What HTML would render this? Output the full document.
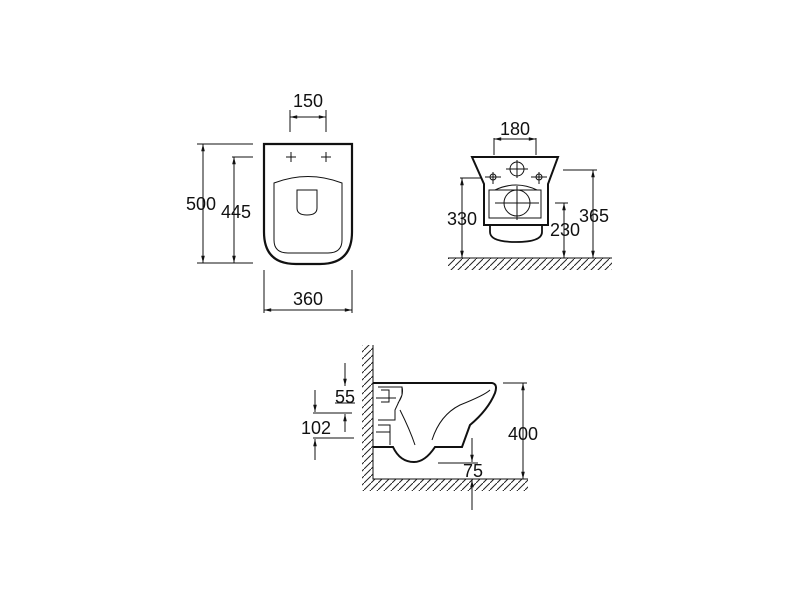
<!DOCTYPE html>
<html><head><meta charset="utf-8"><style>
html,body{margin:0;padding:0;background:#fff}
svg{display:block}
text{font-family:"Liberation Sans",sans-serif;font-size:18px;fill:#111;text-anchor:middle}
</style></head><body>
<svg width="800" height="600" viewBox="0 0 800 600" xmlns="http://www.w3.org/2000/svg">
<defs>
<marker id="a" viewBox="0 0 12 10" refX="12" refY="5" markerWidth="9" markerHeight="6" orient="auto-start-reverse"><path d="M0,2 L12,5 L0,8 Z" fill="#111"/></marker>
<pattern id="h" width="7" height="7" patternUnits="userSpaceOnUse"><path d="M-1,8 L8,-1" stroke="#222" stroke-width="1"/></pattern>
</defs>
<g stroke="#111" fill="none" stroke-width="1">
<!-- TOP VIEW -->
<path d="M264,144 L352,144 L352,232 Q352,264 320,264 L296,264 Q264,264 264,232 Z" stroke-width="2.2"/>
<path d="M274,183 Q308,170 342,183 L342,240 Q342,253 328,253 L288,253 Q274,253 274,240 Z"/>
<path d="M297,190 L317,190 L317,208 Q317,215 307,215 Q297,215 297,208 Z"/>
<path d="M286,157 h10 M291,152 v10 M321,157 h10 M326,152 v10"/>
<path d="M290,110 v22 M326,110 v22"/>
<path d="M290,117 H326" marker-start="url(#a)" marker-end="url(#a)"/>
<path d="M197,144 H253 M232,157 H253 M197,263 H253"/>
<path d="M203,144 V263" marker-start="url(#a)" marker-end="url(#a)"/>
<path d="M234,157 V263" marker-start="url(#a)" marker-end="url(#a)"/>
<path d="M264,270 V313 M352,270 V313"/>
<path d="M264,310 H352" marker-start="url(#a)" marker-end="url(#a)"/>
<!-- FRONT VIEW -->
<path d="M472,157 L558,157 L548,184 L548,225 L484,225 L484,184 Z" stroke-width="2"/>
<path d="M490,225 L490,232 Q490,242 516,242 Q542,242 542,232 L542,225" stroke-width="1.8"/>
<path d="M489,190 L541,190 L541,218 L489,218 Z M495,190 Q516,180 537,190"/>
<circle cx="517" cy="169" r="7"/><path d="M506,169 h22 M517,160 v18"/>
<circle cx="517" cy="203" r="13"/><path d="M495,203 h44 M517,186 v34"/>
<circle cx="493" cy="177" r="3"/><path d="M485,177 h16 M493,172 v12"/>
<circle cx="539" cy="177" r="3"/><path d="M531,177 h16 M539,172 v12"/>
<path d="M494,138 V155 M536,138 V155"/>
<path d="M494,139 H536" marker-start="url(#a)" marker-end="url(#a)"/>
<rect x="448" y="258" width="164" height="12" fill="url(#h)" stroke="none"/>
<path d="M448,258 H612"/>
<path d="M460,178 H482 M563,170 H597 M555,203 H568"/>
<path d="M462,178 V258" marker-start="url(#a)" marker-end="url(#a)"/>
<path d="M593,170 V258" marker-start="url(#a)" marker-end="url(#a)"/>
<path d="M564,203 V258" marker-start="url(#a)" marker-end="url(#a)"/>
<!-- SIDE VIEW -->
<rect x="362" y="345" width="11" height="134" fill="url(#h)" stroke="none"/>
<rect x="362" y="479" width="166" height="12" fill="url(#h)" stroke="none"/>
<path d="M373,345 V479 H528"/>
<path d="M373,383 L492,383 Q498,384 495,393 Q488,410 470,425 L462,447 L435,447 Q425,462 414,462 Q400,462 393,447 L373,447" stroke-width="2"/>
<path d="M378,387 H402 V395 L395,410 V420 H378 M378,425 H390 V445 M402,387 Q404,395 398,403 M400,410 Q410,430 415,445 M432,440 Q440,415 460,405 Q485,395 490,390"/>
<path d="M381,390 h8 v12 h-8 M376,398 h20 M376,432 h14"/>
<path d="M503,383 H527"/>
<path d="M523,383 V479" marker-start="url(#a)" marker-end="url(#a)"/>
<path d="M438,463 H478"/>
<path d="M472,438 V462" marker-end="url(#a)"/>
<path d="M472,510 V480" marker-end="url(#a)"/>
<path d="M345,363 V386" marker-end="url(#a)"/>
<path d="M335,403 H355 M313,413 H352 M313,438 H354"/>
<path d="M345,432 V414" marker-end="url(#a)"/>
<path d="M315,390 V412" marker-end="url(#a)"/>
<path d="M315,460 V439" marker-end="url(#a)"/>
</g>
<text x="308" y="107">150</text>
<text x="201" y="210">500</text>
<text x="236" y="218">445</text>
<text x="308" y="305">360</text>
<text x="515" y="135">180</text>
<text x="462" y="225">330</text>
<text x="565" y="236">230</text>
<text x="594" y="222">365</text>
<text x="345" y="403">55</text>
<text x="316" y="434">102</text>
<text x="523" y="440">400</text>
<text x="473" y="477">75</text>
</svg>
</body></html>
